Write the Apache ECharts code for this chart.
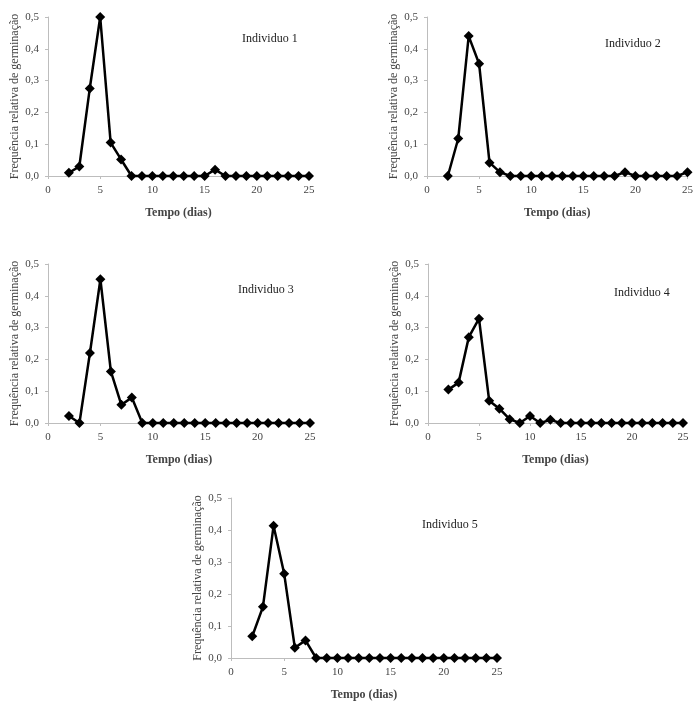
<!DOCTYPE html>
<html>
<head>
<meta charset="utf-8">
<script src="https://cdn.jsdelivr.net/npm/echarts@6/dist/echarts.min.js"></script>
<style>html,body{margin:0;padding:0;background:#fff}#c{width:696px;height:707px}</style>
</head>
<body>
<div id="c"></div>
<script>
const days = [2,3,4,5,6,7,8,9,10,11,12,13,14,15,16,17,18,19,20,21,22,23,24,25];
const ind1 = [0.01,0.03,0.275,0.5,0.105,0.052,0,0,0,0,0,0,0,0,0.02,0,0,0,0,0,0,0,0,0];
const ind2 = [0,0.118,0.44,0.353,0.042,0.012,0,0,0,0,0,0,0,0,0,0,0,0.012,0,0,0,0,0,0.012];
const ind3 = [0.022,0,0.22,0.452,0.162,0.057,0.08,0,0,0,0,0,0,0,0,0,0,0,0,0,0,0,0,0];
const ind4 = [0.105,0.127,0.27,0.328,0.07,0.045,0.012,0,0.022,0,0.01,0,0,0,0,0,0,0,0,0,0,0,0,0];
const ind5 = [0.068,0.16,0.413,0.263,0.032,0.055,0,0,0,0,0,0,0,0,0,0,0,0,0,0,0,0,0,0];
const titles = ['Individuo 1','Individuo 2','Individuo 3','Individuo 4','Individuo 5'];
const xName = 'Tempo (dias)';
const yName = 'Frequência relativa de germinação';
const xTicks = [0,5,10,15,20,25];
const yTicks = [0,0.1,0.2,0.3,0.4,0.5];

const allData = [ind1,ind2,ind3,ind4,ind5];
const grids = [
  {left:48, top:17, width:261, height:159},
  {left:427, top:17, width:262, height:159},
  {left:48, top:264, width:262, height:159},
  {left:428, top:264, width:255, height:159},
  {left:231, top:498, width:266, height:160}
];
const titlePos = [[237,28],[600,33],[233,279],[609,282],[417,514]];
const font = 'Liberation Serif, Times New Roman, serif';
const axisColor = '#bdbdbd';

const option = {
  animation:false,
  backgroundColor:'#fff',
  textStyle:{fontFamily:font},
  title: titles.map((t,i)=>({text:t,left:titlePos[i][0],top:titlePos[i][1],textStyle:{fontFamily:font,fontSize:12,fontWeight:'normal',color:'#222'}})),
  grid: grids,
  xAxis: grids.map((g,i)=>({
    type:'value', gridIndex:i, min:xTicks[0], max:xTicks[xTicks.length-1], interval:5,
    name:xName, nameLocation:'middle', nameGap:31,
    nameTextStyle:{fontFamily:font,fontSize:12,fontWeight:'bold',color:'#444'},
    axisLine:{show:true,onZero:false,lineStyle:{color:axisColor,width:1}},
    axisTick:{show:true,length:3,lineStyle:{color:axisColor}},
    axisLabel:{fontFamily:font,fontSize:11,color:'#444',margin:9},
    splitLine:{show:false}
  })),
  yAxis: grids.map((g,i)=>({
    type:'value', gridIndex:i, min:yTicks[0], max:yTicks[yTicks.length-1], interval:0.1,
    name:yName, nameLocation:'middle', nameGap:27, nameRotate:90,
    nameTextStyle:{fontFamily:font,fontSize:12,color:'#444'},
    axisLine:{show:true,lineStyle:{color:axisColor,width:1}},
    axisTick:{show:true,length:3,lineStyle:{color:axisColor}},
    axisLabel:{fontFamily:font,fontSize:11,color:'#444',margin:9,formatter:v=>v.toFixed(1).replace('.',',')},
    splitLine:{show:false}
  })),
  series: allData.map((d,i)=>({
    type:'line', xAxisIndex:i, yAxisIndex:i,
    data: days.map((x,j)=>[x,d[j]]),
    symbol:'diamond', symbolSize:10, showSymbol:true,
    lineStyle:{color:'#000',width:2.5},
    itemStyle:{color:'#000'},
    clip:false
  }))
};
const chart = echarts.init(document.getElementById('c'),null,{renderer:'canvas'});
chart.setOption(option);
</script>
</body>
</html>
